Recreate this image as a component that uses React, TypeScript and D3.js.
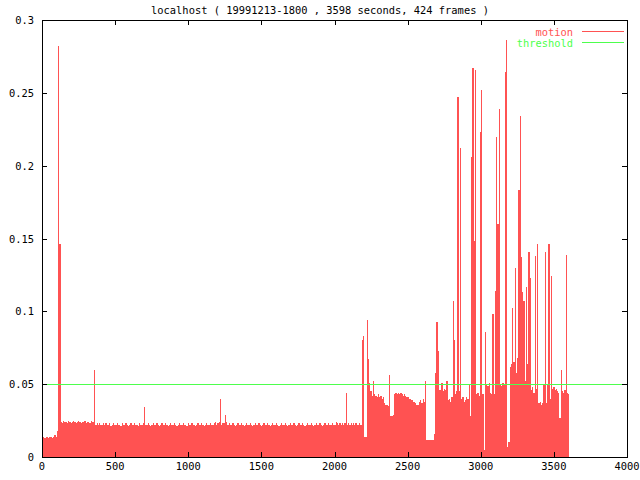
import React from 'react';
import * as d3 from 'd3';

const TITLE = 'localhost ( 19991213-1800 , 3598 seconds, 424 frames )';
const DURATION = 3598;
const THRESHOLD = 0.05;
const SERIES_NAMES = ['motion', 'threshold'];

// motion value per frame (424 frames, evenly spread over DURATION seconds)
const motion: number[] = [
  0.014, 0.014, 0.013, 0.014, 0.014, 0.013, 0.014, 0.014, 0.013, 0.014,
  0.015, 0.014, 0.018, 0.282, 0.146, 0.024, 0.023, 0.025, 0.024, 0.024,
  0.023, 0.025, 0.024, 0.023, 0.024, 0.025, 0.024, 0.023, 0.024, 0.025,
  0.024, 0.023, 0.024, 0.024, 0.025, 0.023, 0.024, 0.024, 0.023, 0.025,
  0.024, 0.024, 0.060, 0.022, 0.023, 0.022, 0.023, 0.022, 0.022, 0.023,
  0.022, 0.023, 0.022, 0.022, 0.023, 0.021, 0.022, 0.023, 0.022, 0.022,
  0.023, 0.022, 0.022, 0.021, 0.023, 0.022, 0.022, 0.023, 0.022, 0.021,
  0.022, 0.023, 0.022, 0.022, 0.023, 0.022, 0.022, 0.021, 0.023, 0.022,
  0.022, 0.023, 0.034, 0.022, 0.022, 0.023, 0.022, 0.021, 0.022, 0.023,
  0.022, 0.022, 0.023, 0.022, 0.021, 0.022, 0.023, 0.022, 0.022, 0.023,
  0.022, 0.021, 0.022, 0.023, 0.022, 0.022, 0.023, 0.022, 0.021, 0.022,
  0.023, 0.022, 0.022, 0.023, 0.022, 0.022, 0.021, 0.023, 0.022, 0.022,
  0.023, 0.022, 0.022, 0.021, 0.022, 0.023, 0.022, 0.022, 0.023, 0.022,
  0.021, 0.022, 0.023, 0.022, 0.022, 0.023, 0.022, 0.022, 0.023, 0.024,
  0.022, 0.023, 0.024, 0.040, 0.022, 0.023, 0.023, 0.029, 0.024, 0.022,
  0.023, 0.022, 0.022, 0.023, 0.022, 0.021, 0.022, 0.023, 0.022, 0.022,
  0.023, 0.022, 0.021, 0.022, 0.023, 0.022, 0.022, 0.023, 0.022, 0.021,
  0.022, 0.023, 0.022, 0.022, 0.023, 0.022, 0.021, 0.022, 0.023, 0.022,
  0.022, 0.023, 0.022, 0.021, 0.022, 0.023, 0.022, 0.022, 0.023, 0.022,
  0.021, 0.022, 0.023, 0.022, 0.022, 0.023, 0.022, 0.021, 0.022, 0.023,
  0.022, 0.022, 0.023, 0.022, 0.021, 0.022, 0.023, 0.022, 0.022, 0.023,
  0.022, 0.021, 0.022, 0.023, 0.022, 0.022, 0.023, 0.022, 0.021, 0.022,
  0.023, 0.022, 0.022, 0.023, 0.022, 0.021, 0.022, 0.023, 0.022, 0.022,
  0.023, 0.022, 0.022, 0.023, 0.022, 0.022, 0.024, 0.023, 0.022, 0.023,
  0.022, 0.023, 0.022, 0.023, 0.044, 0.022, 0.023, 0.022, 0.023, 0.022,
  0.023, 0.022, 0.023, 0.022, 0.022, 0.023, 0.022, 0.080, 0.083, 0.014,
  0.014, 0.094, 0.067, 0.051, 0.045, 0.042, 0.052, 0.043, 0.042, 0.041,
  0.043, 0.041, 0.042, 0.040, 0.041, 0.037, 0.036, 0.036, 0.035, 0.056,
  0.028, 0.028, 0.029, 0.043, 0.044, 0.043, 0.044, 0.043, 0.044, 0.043,
  0.042, 0.043, 0.042, 0.041, 0.041, 0.040, 0.040, 0.039, 0.038, 0.038,
  0.037, 0.036, 0.036, 0.038, 0.039, 0.037, 0.040, 0.038, 0.052, 0.012,
  0.012, 0.012, 0.012, 0.012, 0.012, 0.016, 0.058, 0.093, 0.073, 0.046,
  0.046, 0.051, 0.045, 0.047, 0.046, 0.052, 0.039, 0.040, 0.038, 0.041,
  0.107, 0.080, 0.043, 0.045, 0.247, 0.045, 0.212, 0.040, 0.041, 0.038,
  0.039, 0.041, 0.040, 0.050, 0.028, 0.206, 0.267, 0.148, 0.266, 0.043,
  0.044, 0.042, 0.223, 0.252, 0.043, 0.005, 0.086, 0.050, 0.049, 0.051,
  0.044, 0.043, 0.098, 0.043, 0.114, 0.220, 0.160, 0.239, 0.050, 0.049,
  0.051, 0.050, 0.264, 0.286, 0.007, 0.010, 0.062, 0.064, 0.102, 0.065,
  0.130, 0.058, 0.068, 0.183, 0.234, 0.137, 0.113, 0.107, 0.052, 0.117,
  0.064, 0.141, 0.123, 0.046, 0.048, 0.044, 0.138, 0.047, 0.146, 0.037,
  0.038, 0.036, 0.037, 0.050, 0.141, 0.037, 0.050, 0.146, 0.040, 0.124,
  0.047, 0.048, 0.046, 0.047, 0.045, 0.044, 0.027, 0.060, 0.045, 0.044,
  0.046, 0.139, 0.044, 0.043,
];

const xTicks = [0, 500, 1000, 1500, 2000, 2500, 3000, 3500, 4000];
const yTicks = [0, 0.05, 0.1, 0.15, 0.2, 0.25, 0.3];
const yTickLabels = ['0', '0.05', '0.1', '0.15', '0.2', '0.25', '0.3'];

const RED = '#ff5252';
const GREEN = '#4dff4d';
const FONT = '"DejaVu Sans Mono", "Liberation Mono", monospace';

export default function App() {
  const W = 640;
  const H = 480;
  const left = 42, right = 627, top = 20, bottom = 457;
  const x = d3.scaleLinear().domain([0, 4000]).range([left, right]);
  const y = d3.scaleLinear().domain([0, 0.3]).range([bottom, top]);
  const step = DURATION / (motion.length - 1);
  const fs = 10.4;

  const bars = motion.map((v, i) => {
    const t = i * step;
    const x0 = Math.round(x(t));
    const x1 = i < motion.length - 1 ? Math.round(x(t + step)) : x0 + 1;
    const w = Math.max(1, x1 - x0);
    const yTop = Math.round(y(v));
    return <rect key={i} x={x0} y={yTop} width={w} height={bottom - yTop} fill={RED} />;
  });

  const tickLen = 5;

  return (
    <svg
      width={W}
      height={H}
      viewBox={`0 0 ${W} ${H}`}
      style={{ position: 'absolute', left: 0, top: 0, background: '#fff' }}
      fontFamily={FONT}
      fontSize={fs}
    >
      <rect x={0} y={0} width={W} height={H} fill="#fff" />
      <g shapeRendering="crispEdges">{bars}</g>
      <line
        x1={left}
        x2={right}
        y1={Math.round(y(THRESHOLD)) + 0.5}
        y2={Math.round(y(THRESHOLD)) + 0.5}
        stroke={GREEN}
        strokeWidth={1}
        shapeRendering="crispEdges"
      />
      {/* frame */}
      <rect
        x={left + 0.5}
        y={top + 0.5}
        width={right - left}
        height={bottom - top}
        fill="none"
        stroke="#000"
        strokeWidth={1}
        shapeRendering="crispEdges"
      />
      <g stroke="#000" strokeWidth={1} shapeRendering="crispEdges">
        {xTicks.map((t) => {
          const px = Math.round(x(t)) + 0.5;
          return (
            <g key={'xt' + t}>
              <line x1={px} x2={px} y1={bottom} y2={bottom - tickLen} />
              <line x1={px} x2={px} y1={top} y2={top + tickLen} />
            </g>
          );
        })}
        {yTicks.map((t) => {
          const py = Math.round(y(t)) + 0.5;
          return (
            <g key={'yt' + t}>
              <line x1={left} x2={left + tickLen} y1={py} y2={py} />
              <line x1={right} x2={right - tickLen} y1={py} y2={py} />
            </g>
          );
        })}
      </g>
      <g fill="#000">
        {xTicks.map((t) => (
          <text key={'xl' + t} x={x(t)} y={bottom + 13} textAnchor="middle">
            {String(t)}
          </text>
        ))}
        {yTicks.map((t, i) => (
          <text key={'yl' + t} x={34} y={y(t) + 4} textAnchor="end">
            {yTickLabels[i]}
          </text>
        ))}
        <text x={320} y={14} textAnchor="middle">
          {TITLE}
        </text>
      </g>
      {/* legend */}
      <text x={573} y={35.5} textAnchor="end" fill={RED}>
        {SERIES_NAMES[0]}
      </text>
      <line x1={582} x2={624} y1={31.5} y2={31.5} stroke={RED} shapeRendering="crispEdges" />
      <text x={573} y={46.5} textAnchor="end" fill={GREEN}>
        {SERIES_NAMES[1]}
      </text>
      <line x1={582} x2={624} y1={42.5} y2={42.5} stroke={GREEN} shapeRendering="crispEdges" />
    </svg>
  );
}
